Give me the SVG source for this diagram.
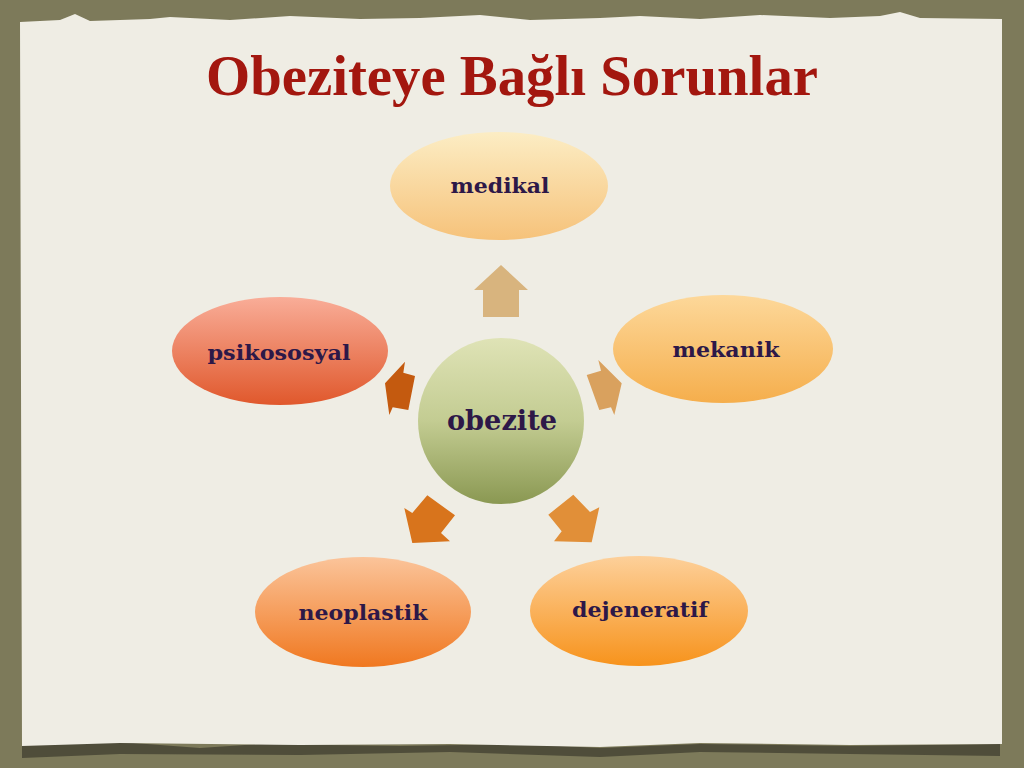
<svg xmlns="http://www.w3.org/2000/svg" width="1024" height="768" viewBox="0 0 1024 768">
<defs>
<style>
.lbl{font-family:"DejaVu Serif","Liberation Serif",serif;font-weight:bold;font-size:20px;fill:#2d1848;text-anchor:middle}
.title{font-family:"Liberation Serif",serif;font-weight:bold;font-size:56px;fill:#a3170f;text-anchor:middle}
</style>
<linearGradient id="gMed" x1="0" y1="0" x2="0" y2="1"><stop offset="0" stop-color="#fcedc4"/><stop offset="1" stop-color="#f6c27a"/></linearGradient>
<linearGradient id="gPsi" x1="0" y1="0" x2="0" y2="1"><stop offset="0" stop-color="#f9ad98"/><stop offset="1" stop-color="#e0582c"/></linearGradient>
<linearGradient id="gMek" x1="0" y1="0" x2="0" y2="1"><stop offset="0" stop-color="#fdd89a"/><stop offset="1" stop-color="#f5ae4c"/></linearGradient>
<linearGradient id="gNeo" x1="0" y1="0" x2="0" y2="1"><stop offset="0" stop-color="#fbc49a"/><stop offset="1" stop-color="#f07820"/></linearGradient>
<linearGradient id="gDej" x1="0" y1="0" x2="0" y2="1"><stop offset="0" stop-color="#fdd09a"/><stop offset="1" stop-color="#f7931c"/></linearGradient>
<linearGradient id="gObe" x1="0" y1="0" x2="0" y2="1"><stop offset="0" stop-color="#dfe3b6"/><stop offset="0.5" stop-color="#c3cc92"/><stop offset="1" stop-color="#8a9852"/></linearGradient>
</defs>
<rect x="0" y="0" width="1024" height="768" fill="#7d7a5a"/>
<path d="M22,745 L120,742 L200,748 L260,744 L400,746 L520,744 L600,748 L700,744 L850,746 L1000,744 L1000,756 L850,754 L700,752 L600,757 L450,752 L300,755 L120,754 L22,758 Z" fill="#4f4d3a"/>
<path d="M20,22 L60,20 L75,14 L90,21 L150,19 L170,17 L230,20 L290,16 L360,19 L420,18 L480,15 L530,20 L600,18 L640,16 L700,19 L760,15 L830,18 L880,16 L900,12 L920,18 L1002,19 L1002,744 L850,745 L700,743 L600,747 L450,744 L300,745 L120,743 L22,746 Z" fill="#efede4"/>
<text class="title" x="512" y="95" textLength="612" lengthAdjust="spacingAndGlyphs">Obeziteye Bağlı Sorunlar</text>
<g id="connectors">
<polygon points="501,265 528,290 519,290 519,317 483,317 483,290 474,290" fill="#d8b47e"/>
<polygon points="598.3,360 621.7,383.3 616.7,405 614.3,415 611,407.3 599.3,410 586.7,375 601,370.7" fill="#d9a15e"/>
<polygon points="405,361.7 403.3,372.7 415,376 408.3,410 392.7,407.3 389.3,415 385,383.3" fill="#c45a0f"/>
<polygon points="427.3,495.3 455,515.3 441,533 450,541.3 412.3,543 404.3,508 412.3,513" fill="#d8741c"/>
<polygon points="573.3,494.7 548.3,514.7 561.7,531.3 554,541.3 591.7,542.3 599.3,507.3 590,512" fill="#e18f38"/>
</g>
<g id="node-medikal"><ellipse cx="499" cy="186" rx="109" ry="54" fill="url(#gMed)"/><text class="lbl" x="500" y="193" textLength="99" lengthAdjust="spacingAndGlyphs">medikal</text></g>
<g id="node-psikososyal"><ellipse cx="280" cy="351" rx="108" ry="54" fill="url(#gPsi)"/><text class="lbl" x="279" y="360" textLength="143" lengthAdjust="spacingAndGlyphs">psikososyal</text></g>
<g id="node-mekanik"><ellipse cx="723" cy="349" rx="110" ry="54" fill="url(#gMek)"/><text class="lbl" x="726" y="357" textLength="107" lengthAdjust="spacingAndGlyphs">mekanik</text></g>
<g id="node-obezite"><circle cx="501" cy="421" r="83" fill="url(#gObe)"/><text class="lbl" x="502" y="430" style="font-size:28px" textLength="110" lengthAdjust="spacingAndGlyphs">obezite</text></g>
<g id="node-neoplastik"><ellipse cx="363" cy="612" rx="108" ry="55" fill="url(#gNeo)"/><text class="lbl" x="363" y="620" textLength="129" lengthAdjust="spacingAndGlyphs">neoplastik</text></g>
<g id="node-dejeneratif"><ellipse cx="639" cy="611" rx="109" ry="55" fill="url(#gDej)"/><text class="lbl" x="640" y="617" textLength="136" lengthAdjust="spacingAndGlyphs">dejeneratif</text></g>
</svg>
